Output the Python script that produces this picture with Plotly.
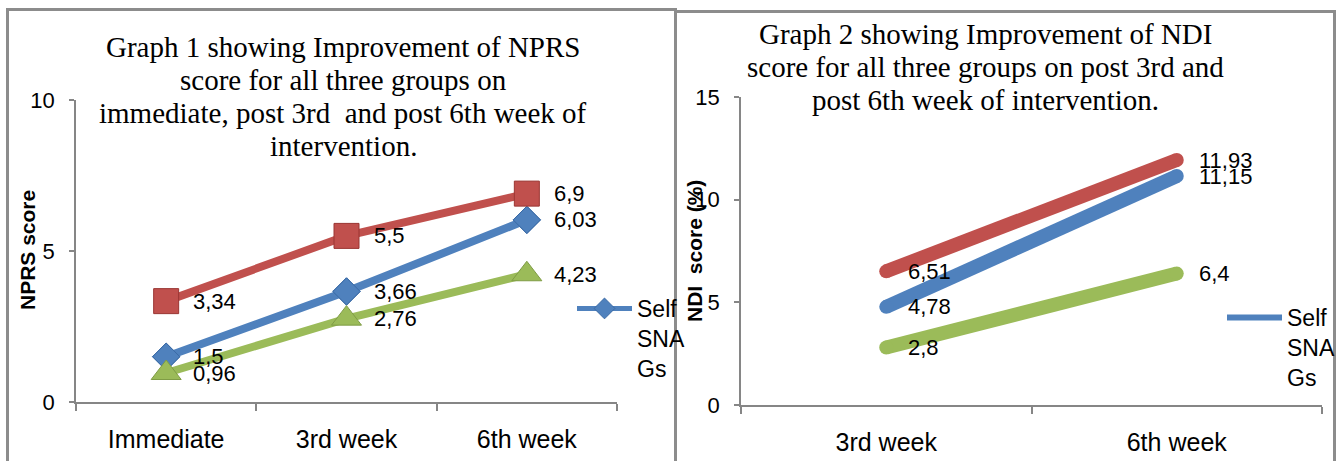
import plotly.graph_objects as go

W, H = 1337, 461

# ---------------- data ----------------
npr_categories = ["Immediate", "3rd week", "6th week"]
npr_self_snags = [1.5, 3.66, 6.03]
npr_group_red = [3.34, 5.5, 6.9]
npr_group_green = [0.96, 2.76, 4.23]

ndi_categories = ["3rd week", "6th week"]
ndi_self_snags = [4.78, 11.15]
ndi_group_red = [6.51, 11.93]
ndi_group_green = [2.8, 6.4]

title1_lines = ["Graph 1 showing Improvement of NPRS",
                "score for all three groups on",
                "immediate, post 3rd\u00a0 and post 6th week of",
                "intervention."]
title2_lines = ["Graph 2 showing Improvement of NDI",
                "score for all three groups on post 3rd and",
                "post 6th week of intervention."]
legend_name = "Self<br>SNA<br>Gs"

BLUE, RED, GREEN = "#4F81BD", "#C0504D", "#9BBB59"
SANS = "Liberation Sans, Arial, sans-serif"
SERIF = "Liberation Serif, Times New Roman, serif"
AXIS = "#868686"


def px_x(x):
    return x / W


def px_y(y):
    return (H - y) / H


def fmt(v):
    return ("%g" % v).replace(".", ",")


fig = go.Figure()

# ---------------- left chart (NPRS) ----------------
left_series = [
    (npr_self_snags, BLUE, "diamond", 21, "#3A6AA5", True, legend_name),
    (npr_group_red, RED, "square", 25, "#9A3532", False, "Group 2"),
    (npr_group_green, GREEN, "triangle-up", 26, "#7F9C45", False, "Group 3"),
]
for vals, col, sym, size, edge, show, name in left_series:
    if show:
        # thinner twin (hidden under the main line) that provides the legend swatch
        fig.add_trace(go.Scatter(
            x=npr_categories, y=vals, xaxis="x", yaxis="y",
            mode="lines+markers", name=name, showlegend=True, legend="legend",
            line=dict(color=col, width=5),
            marker=dict(symbol=sym, size=size, color=col, line=dict(color=edge, width=1)),
            hoverinfo="skip",
        ))
    fig.add_trace(go.Scatter(
        x=npr_categories, y=vals, xaxis="x", yaxis="y",
        mode="lines+markers", name=name, showlegend=False,
        line=dict(color=col, width=8),
        marker=dict(symbol=sym, size=size, color=col, line=dict(color=edge, width=1)),
        hoverinfo="skip",
    ))
    for c, v in zip(npr_categories, vals):
        fig.add_annotation(x=c, y=v, xref="x", yref="y", text=fmt(v),
                           showarrow=False, xanchor="left", yanchor="middle",
                           xshift=25, font=dict(family=SANS, size=22, color="black"))

# ---------------- right chart (NDI) ----------------
right_series = [
    (ndi_self_snags, BLUE, True, legend_name),
    (ndi_group_red, RED, False, "Group 2"),
    (ndi_group_green, GREEN, False, "Group 3"),
]
for vals, col, show, name in right_series:
    if show:
        fig.add_trace(go.Scatter(
            x=ndi_categories, y=vals, xaxis="x2", yaxis="y2",
            mode="lines", name=name, showlegend=True, legend="legend2",
            line=dict(color=col, width=6), hoverinfo="skip",
        ))
    fig.add_trace(go.Scatter(
        x=ndi_categories, y=vals, xaxis="x2", yaxis="y2",
        mode="lines", name=name, showlegend=False,
        line=dict(color=col, width=14), hoverinfo="skip",
    ))
    # round line caps
    fig.add_trace(go.Scatter(
        x=ndi_categories, y=vals, xaxis="x2", yaxis="y2",
        mode="markers", showlegend=False,
        marker=dict(symbol="circle", size=14, color=col, line=dict(width=0)),
        hoverinfo="skip",
    ))
    for c, v in zip(ndi_categories, vals):
        fig.add_annotation(x=c, y=v, xref="x2", yref="y2", text=fmt(v),
                           showarrow=False, xanchor="left", yanchor="middle",
                           xshift=20, font=dict(family=SANS, size=22, color="black"))

# ---------------- titles ----------------
for i, t in enumerate(title1_lines):
    fig.add_annotation(x=px_x(343), y=px_y(47 + 33 * i), xref="paper", yref="paper",
                       text=t, showarrow=False, xanchor="center", yanchor="middle",
                       font=dict(family=SERIF, size=29, color="black"))
for i, t in enumerate(title2_lines):
    fig.add_annotation(x=px_x(985), y=px_y(34 + 33 * i), xref="paper", yref="paper",
                       text=t, showarrow=False, xanchor="center", yanchor="middle",
                       font=dict(family=SERIF, size=29, color="black"))

# axis titles
fig.add_annotation(x=px_x(27), y=px_y(250), xref="paper", yref="paper",
                   text="<b>NPRS score</b>", textangle=-90, showarrow=False,
                   xanchor="center", yanchor="middle",
                   font=dict(family=SANS, size=21, color="black"))
fig.add_annotation(x=px_x(694), y=px_y(251), xref="paper", yref="paper",
                   text="<b>NDI\u00a0 score (%)</b>", textangle=-90, showarrow=False,
                   xanchor="center", yanchor="middle",
                   font=dict(family=SANS, size=21, color="black"))

# panel borders
fig.add_shape(type="rect", xref="paper", yref="paper",
              x0=px_x(7.5), x1=px_x(675.5), y0=-0.1, y1=px_y(9.5),
              line=dict(color="#8C8C8C", width=3), layer="below")
fig.add_shape(type="rect", xref="paper", yref="paper",
              x0=px_x(675.5), x1=px_x(1334.5), y0=-0.1, y1=px_y(11.5),
              line=dict(color="#8C8C8C", width=3), layer="below")

xcommon = dict(type="category", showgrid=False, zeroline=False, showline=True,
               linecolor=AXIS, linewidth=1.5, ticks="outside", ticklen=7,
               tickcolor=AXIS, tickwidth=1.5, tickson="boundaries",
               tickfont=dict(family=SANS, size=25, color="black"),
               ticklabelstandoff=14, fixedrange=True, automargin=False)
ycommon = dict(showgrid=False, zeroline=False, showline=True, linecolor=AXIS,
               linewidth=1.5, ticks="outside", ticklen=5, tickcolor=AXIS,
               tickwidth=1.5, dtick=5,
               tickfont=dict(family=SANS, size=22, color="black"),
               ticklabelstandoff=10, fixedrange=True, automargin=False)

fig.update_layout(
    width=W, height=H,
    margin=dict(l=0, r=0, t=0, b=0, pad=0, autoexpand=False),
    paper_bgcolor="white", plot_bgcolor="rgba(0,0,0,0)",
    xaxis=dict(domain=[px_x(76), px_x(617)], range=[-0.5, 2.5],
               categoryarray=npr_categories, anchor="y", **xcommon),
    yaxis=dict(domain=[px_y(402), px_y(100)], range=[0, 10], anchor="x", **ycommon),
    xaxis2=dict(domain=[px_x(741), px_x(1322)], range=[-0.5, 1.5],
                categoryarray=ndi_categories, anchor="y2", **xcommon),
    yaxis2=dict(domain=[px_y(405), px_y(97)], range=[0, 15], anchor="x2", **ycommon),
    legend=dict(x=px_x(572), y=px_y(287), xanchor="left", yanchor="top",
                bgcolor="rgba(0,0,0,0)", itemwidth=55, valign="top",
                font=dict(family=SANS, size=23, color="black")),
    legend2=dict(x=px_x(1222), y=px_y(296), xanchor="left", yanchor="top",
                 bgcolor="rgba(0,0,0,0)", itemwidth=55, valign="top",
                 font=dict(family=SANS, size=23, color="black")),
    showlegend=True,
)

fig.write_html(
    "out.html",
    config={"displayModeBar": False},
    post_script=("document.documentElement.style.margin='0';"
                 "document.body.style.margin='0';"
                 "document.body.style.overflow='hidden';"
                 "document.documentElement.style.overflow='hidden';"),
)
